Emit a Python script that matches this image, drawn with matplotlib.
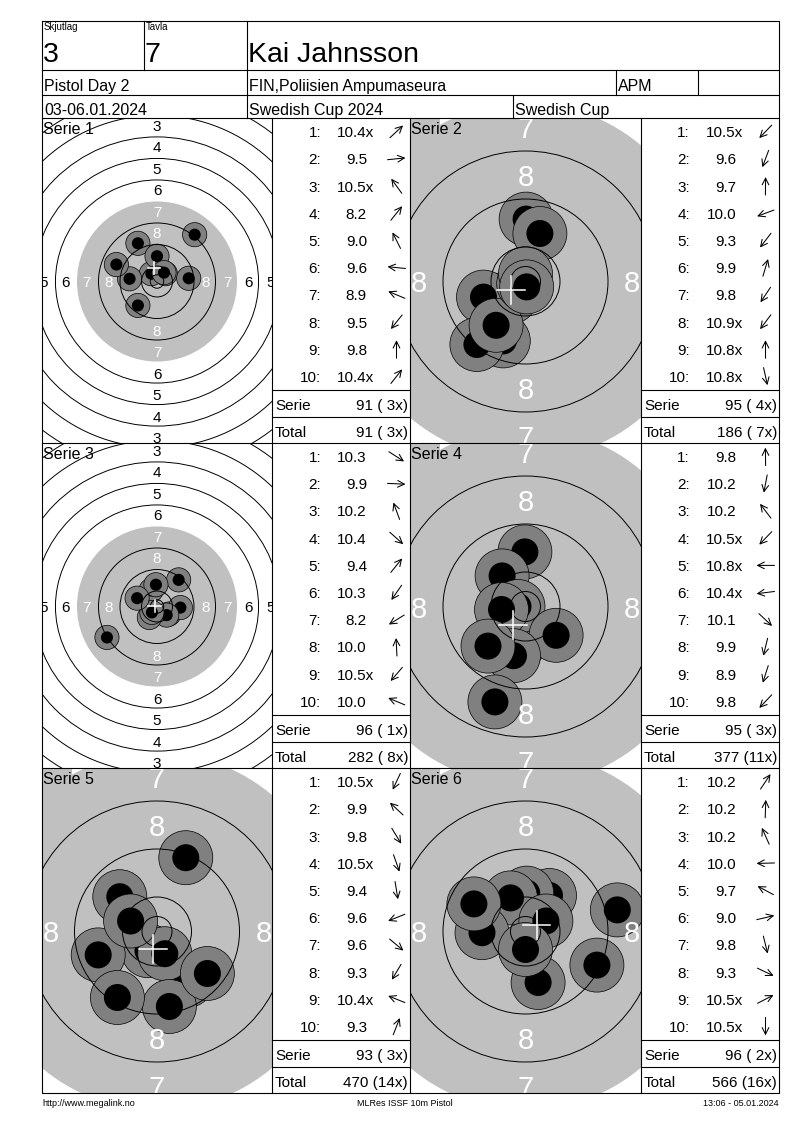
import numpy as np
import matplotlib
matplotlib.use('Agg')
import matplotlib.pyplot as plt
from matplotlib.patches import Circle, Rectangle

plt.rcParams['font.family'] = ['Liberation Sans', 'DejaVu Sans']

# header texts
squad_label, squad = 'Skjutlag', '3'
lane_label, lane = 'Tavla', '7'
shooter = 'Kai Jahnsson'
event = 'Pistol Day 2'
club = 'FIN,Poliisien Ampumaseura'
club_short = 'APM'
dates = '03-06.01.2024'
competition = 'Swedish Cup 2024'
cup = 'Swedish Cup'
footer_left = 'http://www.megalink.no'
footer_mid = 'MLRes ISSF 10m Pistol'
footer_right = '13:06 - 05.01.2024'

# shot values per serie
scores_1 = ['10.4x', '9.5', '10.5x', '8.2', '9.0', '9.6', '8.9', '9.5', '9.8', '10.4x']
scores_2 = ['10.5x', '9.6', '9.7', '10.0', '9.3', '9.9', '9.8', '10.9x', '10.8x', '10.8x']
scores_3 = ['10.3', '9.9', '10.2', '10.4', '9.4', '10.3', '8.2', '10.0', '10.5x', '10.0']
scores_4 = ['9.8', '10.2', '10.2', '10.5x', '10.8x', '10.4x', '10.1', '9.9', '8.9', '9.8']
scores_5 = ['10.5x', '9.9', '9.8', '10.5x', '9.4', '9.6', '9.6', '9.3', '10.4x', '9.3']
scores_6 = ['10.2', '10.2', '10.2', '10.0', '9.7', '9.0', '9.8', '9.3', '10.5x', '10.5x']

# shot positions, mm from target centre (y up)
shots_x_1 = [3.1, 11.8, -2.1, 14.0, -7.1, -10.2, -15.1, -7.1, 0.0, 2.6]
shots_y_1 = [2.9, 1.2, 2.9, 17.4, 14.2, 1.0, 6.3, -8.9, 9.4, 3.3]
shots_x_2 = [-2.5, -3.7, 0.1, -7.0, -8.1, 2.4, -4.9, -0.3, 0.0, 0.2]
shots_y_2 = [-2.6, -9.9, 10.4, -2.6, -10.5, 8.0, -7.3, -0.4, 1.3, -0.9]
shots_x_3 = [4.4, 8.7, -2.2, 3.6, 8.05, -2.85, -18.6, -0.4, -1.9, -7.4]
shots_y_3 = [-2.8, -0.4, 6.0, -3.2, 9.9, -4.1, -11.5, 8.1, -2.2, 3.1]
shots_x_4 = [-0.1, -1.2, -3.9, -2.5, -1.25, -4.0, 5.1, -2.0, -5.1, -6.25]
shots_y_4 = [9.1, -6.3, 5.1, -2.6, 0.0, -0.5, -4.8, -8.2, -15.9, -6.6]
shots_x_5 = [-1.5, -6.2, 5.0, 1.3, 2.06, -9.8, 8.4, -6.6, -4.4, 4.8]
shots_y_5 = [-3.2, 5.8, -8.2, -3.7, -12.5, -3.9, -7.0, -11.0, 1.75, 12.3]
shots_x_6 = [4.0, 0.2, -2.5, -7.25, -8.6, 15.3, 2.1, 11.9, 3.4, 0.0]
shots_y_6 = [6.0, 6.4, 5.6, -0.2, 4.6, 3.6, -8.5, -5.6, 1.75, -3.0]

serie_sum = [91, 95, 96, 95, 93, 96]
serie_x = [3, 4, 1, 3, 3, 2]
total_sum = [91, 186, 282, 377, 470, 566]
total_x = [3, 7, 8, 11, 14, 16]

# px per mm for each target view (full target or zoomed)
view_scale = [2.69, 6.0, 2.69, 6.0, 6.0, 6.0]

all_scores = [scores_1, scores_2, scores_3, scores_4, scores_5, scores_6]
all_x = [shots_x_1, shots_x_2, shots_x_3, shots_x_4, shots_x_5, shots_x_6]
all_y = [shots_y_1, shots_y_2, shots_y_3, shots_y_4, shots_y_5, shots_y_6]

W, H = 800, 1130
fig = plt.figure(figsize=(8, 11.3), dpi=100)

LEFT, RIGHT, TOP, BOTTOM = 42, 779, 21, 1093
col_edges = [(42, 272, 410), (410, 641, 779)]
row_tops = [118, 443, 768]
PANEL_H = 325
GREY = '#c0c0c0'
SHOT_GREY = '#808080'


def ring_r(n):
    return 5.75 + 8 * (10 - n)


def draw_target(i):
    row, col = i // 2, i % 2
    x0, x1, _ = col_edges[col]
    y0 = row_tops[row]
    y1 = y0 + PANEL_H
    cx, cy = (x0 + x1) / 2, (y0 + y1) / 2 + 1
    s = view_scale[i]
    full = s < 4
    tax = fig.add_axes([x0 / W, 1 - y1 / H, (x1 - x0) / W, (y1 - y0) / H])
    xl = ((x0 - cx) / s, (x1 - cx) / s)
    yl = ((cy - y1) / s, (cy - y0) / s)
    tax.set_xlim(*xl)
    tax.set_ylim(*yl)
    tax.axis('off')
    tax.add_patch(Circle((0, 0), ring_r(7), fc=GREY, ec='none', zorder=1))
    xs, ys = all_x[i], all_y[i]
    for k in range(len(xs)):
        tax.add_patch(Circle((xs[k], ys[k]), 4.5, fc=SHOT_GREY, ec='black',
                             lw=0.5, zorder=2 + k * 0.01))
        tax.add_patch(Circle((xs[k], ys[k]), 2.25, fc='black', ec='none',
                             zorder=2.005 + k * 0.01))
    for n in range(1, 11):
        if n == 7:
            continue
        tax.add_patch(Circle((0, 0), ring_r(n), fill=False, ec='black',
                             lw=0.7, zorder=3))
    tax.add_patch(Circle((0, 0), 2.5, fill=False, ec='black', lw=0.7, zorder=3))
    labels = range(3, 9) if full else (7, 8)
    fs = 11 if full else 21
    inset = 3.6 if full else 4.0
    for n in labels:
        r = ring_r(n) - inset
        c = 'white' if n >= 7 else 'black'
        for px, py in [(0, r), (0, -r), (r, 0), (-r, 0)]:
            if not (xl[0] - 1 < px < xl[1] + 1 and yl[0] - 1 < py < yl[1] + 1):
                continue
            tax.text(px, py, str(n), color=c, fontsize=fs, ha='center',
                     va='center_baseline', zorder=4, clip_on=True)
    mx, my = np.mean(xs), np.mean(ys)
    tax.plot([mx - 2.3, mx + 2.3], [my, my], color='white', lw=1.1, zorder=5)
    tax.plot([mx, mx], [my - 2.3, my + 2.3], color='white', lw=1.1, zorder=5)


for i in range(6):
    draw_target(i)

ax = fig.add_axes([0, 0, 1, 1])
ax.set_zorder(10)
ax.patch.set_alpha(0)
ax.set_xlim(0, W)
ax.set_ylim(H, 0)
ax.axis('off')

lk = dict(color='black', lw=0.8)
# outer frame and header grid
ax.plot([LEFT, RIGHT, RIGHT, LEFT, LEFT], [TOP, TOP, BOTTOM, BOTTOM, TOP], **lk)
for yy in [70, 95, 118, 443, 768]:
    ax.plot([LEFT, RIGHT], [yy, yy], **lk)
for xx in [144, 247]:
    ax.plot([xx, xx], [TOP, 70], **lk)
for xx in [247, 616, 698]:
    ax.plot([xx, xx], [70, 95], **lk)
for xx in [247, 513]:
    ax.plot([xx, xx], [95, 118], **lk)
for xx in [272, 410, 641]:
    ax.plot([xx, xx], [118, BOTTOM], **lk)

ax.text(44, 30, squad_label, fontsize=7)
ax.text(146, 30, lane_label, fontsize=7)
ax.text(43, 62, squad, fontsize=20.5)
ax.text(145, 62, lane, fontsize=20.5)
ax.text(248, 62, shooter, fontsize=20.5)
ax.text(44, 91, event, fontsize=11.5)
ax.text(249, 91, club, fontsize=11.5)
ax.text(618, 91, club_short, fontsize=11.5)
ax.text(44, 115, dates, fontsize=11.5)
ax.text(249, 115, competition, fontsize=11.5)
ax.text(515, 115, cup, fontsize=11.5)

ax.text(LEFT, 1106, footer_left, fontsize=6.5)
ax.text(405, 1106, footer_mid, fontsize=6.5, ha='center')
ax.text(RIGHT, 1106, footer_right, fontsize=6.5, ha='right')

ROW_H = 27.2
X_W = 7.6  # width of the trailing 'x' at 11 pt
for i in range(6):
    row, col = i // 2, i % 2
    px0, tx0, tx1 = col_edges[col]
    y0 = row_tops[row]
    s = view_scale[i]
    if s > 4:
        ax.add_patch(Rectangle((px0, y0), 30, 33, fc=GREY, ec='none', zorder=1))
    ax.text(px0 + 1, y0 + 16, f'Serie {i + 1}', fontsize=11.5, zorder=3)
    sc = all_scores[i]
    for k in range(10):
        yc = y0 + ROW_H * (k + 0.5)
        yb = yc + 5.5
        ax.text(tx0 + 49, yb, f'{k + 1}:', fontsize=11, ha='right')
        xr = tx0 + 95 + (X_W if sc[k].endswith('x') else 0)
        ax.text(xr, yb, sc[k], fontsize=11, ha='right')
        ang = np.arctan2(all_y[i][k], all_x[i][k])
        acx, L = tx0 + 124.5, 9.0
        dx, dy = L * np.cos(ang), -L * np.sin(ang)
        ax.annotate('', xy=(acx + dx, yc + dy), xytext=(acx - dx, yc - dy),
                    arrowprops=dict(arrowstyle='->,head_length=0.6,head_width=0.3',
                                    lw=0.75, color='black', shrinkA=0, shrinkB=0,
                                    mutation_scale=8))
    ya, yb2 = y0 + 272, y0 + 298.7
    ax.plot([tx0, tx1], [ya, ya], **lk)
    ax.plot([tx0, tx1], [yb2, yb2], **lk)
    ax.text(tx0 + 3, ya + 20, 'Serie', fontsize=11)
    ax.text(tx1 - 2, ya + 20, f'{serie_sum[i]} ({serie_x[i]:2d}x)', fontsize=11, ha='right')
    ax.text(tx0 + 3, yb2 + 20, 'Total', fontsize=11)
    ax.text(tx1 - 2, yb2 + 20, f'{total_sum[i]} ({total_x[i]:2d}x)', fontsize=11, ha='right')

fig.savefig('out.png', dpi=100, facecolor='w')
